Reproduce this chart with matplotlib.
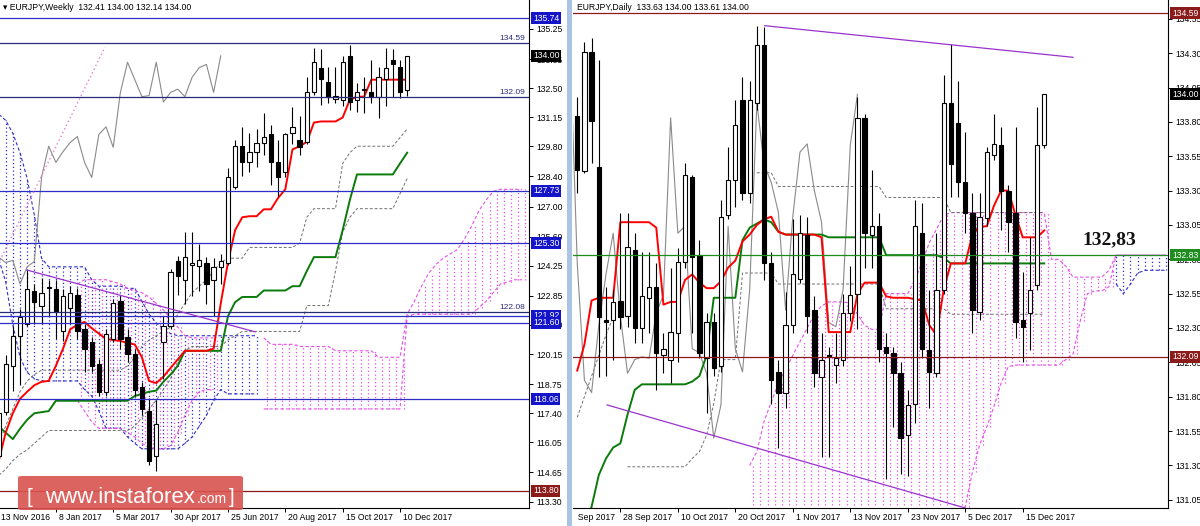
import numpy as np
import matplotlib
matplotlib.use("Agg")
import matplotlib.pyplot as plt
from matplotlib.patches import Rectangle, FancyBboxPatch
from matplotlib.transforms import offset_copy, Bbox, TransformedBbox

nan = np.nan

# ---------------- weekly EURJPY, index 0 = week of 13 Nov 2016
wk_open = [115.4, 117.47, 119.6, 121.0, 121.55, 123.1, 122.4, 123.2, 123.17, 121.2,
           122.3, 122.9, 121.3, 120.7, 119.7, 118.4, 120.85, 122.6, 120.95, 120.15,
           118.6, 117.5, 115.4, 120.7, 121.45, 124.46, 123.6, 124.3, 124.25, 124.4,
           123.6, 124.2, 124.4, 127.9, 129.8, 129.05, 129.55, 129.97, 130.35, 129.05,
           128.6, 130.4, 130.1, 130.0, 132.3, 133.45, 132.8, 132.0, 131.95, 134.0,
           131.95, 132.4, 132.3, 132.1, 132.9, 133.8, 133.5, 132.41]
wk_high = [117.8, 120.1, 121.45, 122.24, 124.1, 123.4, 123.7, 123.6, 123.6, 123.17,
           123.3, 123.2, 121.55, 120.95, 119.9, 121.3, 122.7, 122.85, 121.3, 120.4,
           118.85, 118.1, 118.0, 121.9, 124.1, 124.7, 125.8, 125.8, 125.25, 124.65,
           124.6, 124.8, 128.8, 130.1, 130.7, 130.4, 130.6, 131.36, 130.8, 130.1,
           130.4, 131.6, 131.2, 133.0, 134.37, 134.3, 133.5, 133.5, 134.0, 134.5,
           132.75, 133.0, 133.8, 133.5, 134.37, 134.3, 133.8, 134.00]
wk_low = [115.2, 117.3, 118.45, 118.7, 121.45, 121.55, 121.6, 121.9, 120.85, 120.76,
          121.6, 120.85, 119.3, 119.3, 118.2, 118.2, 120.7, 120.4, 119.8, 118.2,
          117.3, 115.0, 114.74, 119.0, 121.3, 122.9, 122.45, 122.85, 123.1, 122.45,
          121.9, 123.4, 124.3, 127.8, 128.4, 128.6, 128.85, 129.4, 128.0, 127.5,
          128.35, 129.9, 129.4, 129.9, 132.2, 131.7, 131.8, 131.8, 131.65, 131.5,
          131.4, 131.35, 131.8, 131.1, 131.65, 132.1, 132.05, 132.14]
wk_close = [117.4, 119.69, 121.0, 121.87, 123.17, 122.56, 123.0, 123.25, 122.15, 122.85,
            123.0, 121.2, 120.4, 119.6, 118.4, 121.1, 122.5, 120.85, 120.15, 118.5,
            117.6, 115.2, 116.9, 121.45, 123.95, 123.77, 124.65, 124.4, 124.5, 123.4,
            124.2, 124.45, 128.35, 129.8, 129.05, 129.55, 129.97, 130.25, 129.05, 128.35,
            130.35, 130.7, 129.75, 132.3, 133.7, 132.9, 132.1, 132.15, 133.7, 131.85,
            132.3, 132.45, 132.1, 133.0, 133.45, 133.6, 132.3, 134.00]
wk_tenkan = [115.15, 116.5, 117.4, 118.07, 118.4, 118.7, 118.86, 118.9, 119.6, 120.4,
             121.3, 121.5, 121.64, 121.35, 121.1, 120.85, 120.8, 120.76, 120.65, 120.6,
             120.0, 118.9, 118.8, 119.1, 119.5, 119.9, 120.3, 120.3, 120.3, 120.3,
             120.4, 122.5, 124.4, 125.9, 126.5, 126.55, 126.55, 126.87, 126.87, 127.4,
             127.8, 129.65, 129.8, 130.0, 130.9, 130.95, 130.95, 130.95, 131.13, 131.96,
             132.1, 132.1, 132.89, 132.89, 132.89, 132.89, 132.89, 132.89]
wk_kijun = [116.8, 116.5, 116.2, 116.68, 117.1, 117.4, 117.45, 117.5, 117.98, 117.98,
            117.98, 117.98, 117.98, 117.98, 117.98, 117.98, 117.98, 117.98, 117.98, 118.2,
            118.3, 118.4, 118.45, 118.86, 119.2, 119.6, 120.3, 120.3, 120.3, 120.3,
            120.3, 120.3, 121.9, 122.56, 122.8, 122.8, 122.8, 123.1, 123.1, 123.1,
            123.1, 123.3, 123.3, 124.0, 124.65, 124.65, 124.65, 124.65, 125.9, 127.3,
            128.49, 128.49, 128.49, 128.49, 128.49, 128.49, 129.0, 129.5]
wk_dash_hi = [116.0, 116.8, 117.6, 118.4, 118.9, 119.2, 119.4, 119.4, 119.4, 119.4,
              119.4, 119.4, 119.4, 119.4, 119.4, 119.4, 119.4, 119.4, 119.6, 120.0,
              120.5, 120.8, 121.0, 121.2, 121.4, 122.0, 122.5, 123.0, 123.3, 123.6,
              124.0, 124.4, 124.6, 124.6, 124.6, 125.1, 125.1, 125.1, 125.1, 125.1,
              125.1, 125.1, 125.3, 126.5, 126.9, 126.9, 126.9, 126.9, 129.0, 129.5,
              129.8, 129.8, 129.8, 129.8, 129.8, 129.8, 130.2, 130.6]
wk_dash_lo = [114.5, 114.8, 115.2, 115.5, 115.7, 116.0, 116.3, 116.6, 116.6, 116.6,
              116.6, 116.6, 116.6, 116.6, 116.6, 116.6, 116.6, 116.6, 116.6, 116.8,
              117.2, 117.6, 118.0, 118.5, 119.0, 119.8, 120.3, 120.5, 120.5, 120.5,
              120.5, 120.5, 120.8, 121.0, 121.2, 121.2, 121.2, 121.2, 121.2, 121.2,
              121.2, 121.2, 121.2, 122.4, 122.4, 122.4, 122.4, 124.0, 125.8, 126.5,
              126.9, 126.9, 126.9, 126.9, 126.9, 126.9, 127.6, 128.3]
# cloud pieces (blue from week 0, pink from week 11)
wk_blue_top = [131.3, 131.0, 130.4, 129.5, 128.3, 126.6, 124.6, 124.2, 124.2, 124.2,
               124.2, 124.2, 124.2, 123.6, 123.3, 123.3, 123.3, 123.3, 123.2, 123.2,
               122.6, 122.0, 121.6, 121.3, 121.1, 121.0, 121.0, 121.0, 121.0, 121.0,
               121.0, 121.0, 121.0, 121.0, 121.0, 121.0, 121.0]
wk_blue_bot = [124.6, 123.5, 121.5, 120.0, 119.3, 119.0, 118.9, 118.9, 118.9, 118.9,
               118.9, 118.9, 118.5, 118.2, 117.5, 116.7, 116.7, 116.7, 116.3, 116.0,
               115.75, 115.75, 115.75, 115.75, 115.75, 115.75, 116.0, 116.3, 116.8, 117.3,
               118.0, 118.5, 118.3, 118.3, 118.3, 118.3, 118.3]
wk_pink_top = [123.4, 123.6, 123.6, 123.6, 123.6, 123.5, 123.4, 123.2, 123.1, 123.0,
               122.8, 122.5, 122.2, 121.8, 121.4, 121.0, 120.9, 120.9, 120.9, 120.9,
               nan, nan, nan, nan, nan, nan,
               120.9, 120.6, 120.6, 120.6, 120.6, 120.5, 120.5, 120.5, 120.5, 120.5,
               120.3, 120.3, 120.3, 120.3, 120.3, 120.3, 120.0, 120.0, 120.0, 120.0,
               122.0, 122.6, 123.3, 123.9, 124.3, 124.6, 124.8, 125.0, 125.5, 126.1,
               126.8, 127.3, 127.7, 127.8, 127.8, 127.8, 127.8]
wk_pink_bot = [118.0, 117.5, 117.0, 116.7, 116.7, 116.7, 116.7, 116.5, 116.3, 116.0,
               115.8, 115.75, 115.75, 115.9, 116.5, 117.3, 118.0, 118.4, 118.5, 118.5,
               nan, nan, nan, nan, nan, nan,
               117.6, 117.6, 117.6, 117.6, 117.6, 117.6, 117.6, 117.6, 117.6, 117.6,
               117.6, 117.6, 117.6, 117.6, 117.6, 117.6, 117.6, 117.6, 117.6, 117.6,
               121.9, 122.0, 122.0, 122.0, 122.0, 122.0, 122.0, 122.0, 122.0, 122.0,
               122.3, 122.6, 123.0, 123.4, 123.5, 123.6, 123.6]
wk_blue_start, wk_pink_start = 0, 11
wk_date_idx = [0, 8, 16, 24, 32, 40, 48, 56]
wk_date_labels = ["13 Nov 2016", "8 Jan 2017", "5 Mar 2017", "30 Apr 2017",
                  "25 Jun 2017", "20 Aug 2017", "15 Oct 2017", "10 Dec 2017"]
wk_ticks = [135.25, 133.85, 132.50, 131.15, 129.80, 128.40, 127.00, 125.60, 124.25,
            122.85, 121.50, 120.15, 118.75, 117.40, 116.05, 114.65, 113.30]
wk_levels_blue = [135.74, 127.73, 125.30, 121.92, 121.60, 118.06]
wk_levels_navy = [134.59, 132.09, 122.08]
wk_levels_red = [113.80]
wk_trend = ([3.97, 35.8], [124.05, 121.18])
wk_channel = ([0.2, 14.85], [124.5, 134.4])

# ---------------- daily EURJPY, index 0 = 18 Sep 2017, candles from index 2
dy_first = 2
dy_open = [133.84, 133.44, 134.31, 133.47, 132.36, 132.36, 132.50, 132.39, 132.87, 132.30,
           132.52, 132.60, 132.10, 132.07, 132.26, 132.78, 133.40, 132.83, 132.08, 132.34,
           132.02, 133.12, 133.38, 133.96, 133.28, 133.94, 134.36, 132.77, 131.98, 131.83,
           132.32, 132.66, 132.98, 132.43, 131.94, 132.10, 132.03, 132.07, 132.41, 132.55,
           133.83, 132.98, 133.04, 132.16, 132.12, 131.97, 131.52, 131.75, 132.99, 132.14,
           131.97, 132.58, 133.94, 133.79, 133.36, 133.14, 132.42, 133.10, 133.56, 133.63,
           133.30, 133.14, 132.36, 132.41, 132.61, 133.63]
dy_high = [133.98, 134.38, 134.41, 134.25, 132.60, 132.58, 133.14, 133.14, 132.99, 132.85,
           132.85, 132.77, 132.26, 132.74, 132.88, 133.50, 133.41, 132.94, 132.41, 132.41,
           133.23, 133.62, 133.96, 134.13, 134.10, 134.50, 134.49, 132.85, 132.07, 132.56,
           133.09, 133.12, 133.11, 132.53, 132.26, 132.16, 132.26, 132.55, 132.75, 133.98,
           133.86, 133.45, 133.14, 132.26, 132.16, 132.05, 131.85, 133.23, 133.21, 132.58,
           132.99, 134.14, 134.37, 134.10, 133.73, 133.28, 133.28, 133.62, 133.86, 133.76,
           133.34, 133.76, 132.71, 132.96, 133.91, 134.00]
dy_low = [133.28, 133.43, 133.50, 131.94, 131.95, 132.07, 132.29, 132.31, 132.19, 132.19,
          132.26, 131.85, 131.97, 131.90, 132.05, 132.74, 132.26, 132.08, 131.68, 131.95,
          131.98, 133.09, 133.18, 133.23, 133.21, 133.89, 132.65, 131.75, 131.43, 131.72,
          132.26, 132.63, 132.26, 131.87, 131.36, 131.36, 131.90, 132.02, 132.35, 132.29,
          132.74, 132.74, 132.05, 131.20, 131.58, 131.24, 131.22, 131.61, 132.08, 131.72,
          131.94, 132.55, 133.25, 133.25, 132.99, 132.26, 132.36, 133.04, 133.52, 133.01,
          132.85, 132.23, 132.05, 132.14, 132.58, 133.61]
dy_close = [133.45, 134.31, 133.81, 132.38, 132.34, 132.49, 132.38, 132.89, 132.30, 132.53,
            132.60, 132.12, 132.15, 132.27, 132.78, 133.41, 132.82, 132.12, 132.34, 132.01,
            133.11, 133.38, 133.78, 133.28, 133.96, 134.36, 132.77, 131.92, 131.83, 132.32,
            132.69, 132.99, 132.39, 131.97, 132.07, 132.09, 132.08, 132.41, 132.54, 133.83,
            132.99, 133.04, 132.15, 132.12, 131.97, 131.50, 131.74, 133.04, 132.15, 131.98,
            132.58, 133.94, 133.49, 133.36, 133.14, 132.43, 133.11, 133.58, 133.64, 133.30,
            133.07, 132.34, 132.31, 132.58, 133.63, 134.00]
dy_tenkan = [131.99, 132.18, 132.50, 132.52, 132.52, 132.52, 133.07, 133.07, 133.07, 133.07,
             133.07, 133.03, 132.47, 132.49, 132.49, 132.65, 132.69, 132.63, 132.59, 132.59,
             132.64, 132.74, 132.79, 132.93, 132.98, 133.05, 133.09, 133.11, 133.00, 132.98,
             132.98, 132.98, 132.98, 132.98, 132.96, 132.27, 132.27, 132.27, 132.27, 132.55,
             132.63, 132.63, 132.63, 132.53, 132.52, 132.52, 132.52, 132.51, 132.50, 132.32,
             132.25, 132.58, 132.77, 132.77, 132.77, 132.98, 133.04, 133.04, 133.19, 133.30,
             133.30, 133.12, 132.96, 132.96, 132.96, 133.01]
dy_kijun = [130.70, 130.85, 131.00, 131.23, 131.35, 131.43, 131.46, 131.67, 131.85, 131.89,
            131.89, 131.89, 131.89, 131.89, 131.89, 131.89, 131.91, 131.95, 132.10, 132.52,
            132.52, 132.52, 132.52, 132.94, 133.03, 133.06, 133.09, 133.07, 133.00, 132.98,
            132.98, 132.98, 132.98, 132.98, 132.98, 132.96, 132.96, 132.96, 132.96, 132.96,
            132.96, 132.96, 132.96, 132.83, 132.83, 132.83, 132.83, 132.83, 132.83, 132.83,
            132.83, 132.81, 132.77, 132.77, 132.77, 132.77, 132.77, 132.77, 132.77, 132.77,
            132.77, 132.77, 132.77, 132.77, 132.77, 132.77]
dy_dash_hi = [131.65, 131.80, 131.95, 132.10, 132.25, 132.38, nan, nan, nan, nan,
              nan, nan, nan, nan, nan, nan, nan, nan, nan, nan,
              nan, nan, nan, nan, nan, 133.43, 133.43, 133.43, 133.33, 133.33,
              133.33, 133.33, 133.33, 133.33, 133.33, 133.33, 133.33, 133.33, 133.33, 133.33,
              133.33, 133.33, 133.33, 133.25, 133.25, 133.25, 133.25, 133.25, 133.25, 133.25,
              133.25, 133.25, 133.14, 133.14, 133.14, 133.14, 133.14, 133.14, 133.14, 133.14,
              133.14, 133.14, 133.14, 133.14, 133.14, 133.14]
dy_dash_lo = [nan, nan, nan, nan, nan, nan, nan, 131.29, 131.29, 131.29,
              131.29, 131.29, 131.29, 131.29, 131.29, 131.29, 131.35, 131.40, 131.52, 131.75,
              132.07, 132.07, 132.07, 132.70, 132.70, 132.70, 132.70, 132.70, 132.62, 132.62,
              132.62, 132.62, 132.62, 132.62, 132.62, 132.62, 132.62, 132.62, 132.62, 132.62,
              132.62, 132.62, 132.62, 132.44, 132.44, 132.44, 132.44, 132.44, 132.44, 132.44,
              132.44, 132.44, 132.40, 132.40, 132.40, 132.40, 132.40, 132.40, 132.40, 132.40,
              132.40, 132.40, 132.40, 132.40, 132.40, 132.40]
# daily cloud, index 26..84
dy_cloud_start = 26
dy_cloud_top = [131.30, 131.40, 131.62, 131.76, 131.90, 132.00, 132.10, 132.20, 132.30, 132.40,
                132.46, 132.49, 132.49, 132.49, 132.48, 132.40, 132.32, 132.29, 132.29, 132.55,
                132.55, 132.55, 132.55, 132.65, 132.78, 132.92, 133.02, 133.12, 133.14, 133.14,
                133.14, 133.14, 133.14, 133.14, 133.14, 133.14, 133.14, 133.14, 133.14, 133.14,
                133.14, 133.14, 132.80, 132.80, 132.75, 132.67, 132.67, 132.67, 132.67, 132.67,
                132.72, 132.83, 132.83, 132.83, 132.83, 132.83, 132.83, 132.83, 132.83]
dy_cloud_bot = [130.90, 130.90, 130.90, 130.90, 130.90, 130.90, 130.90, 130.90, 130.90, 130.90,
                130.90, 130.90, 130.90, 130.90, 130.90, 130.90, 130.90, 130.90, 130.90, 130.90,
                130.90, 130.90, 130.90, 130.90, 130.90, 130.90, 130.90, 130.90, 130.90, 130.90,
                131.00, 131.25, 131.45, 131.58, 131.73, 131.90, 132.02, 132.03, 132.03, 132.03,
                132.03, 132.03, 132.03, 132.03, 132.07, 132.11, 132.35, 132.55, 132.57, 132.57,
                132.60, 132.83, 132.83, 132.83, 132.83, 132.83, 132.83, 132.83, 132.83]
dy_blue_start = 77
dy_blue_top = [132.83, 132.83, 132.83, 132.83, 132.83, 132.83, 132.83, 132.83]
dy_blue_bot = [132.62, 132.55, 132.62, 132.70, 132.72, 132.72, 132.72, 132.72]
dy_date_idx = [0, 8, 16, 24, 32, 40, 48, 56, 64]
dy_date_labels = ["18 Sep 2017", "28 Sep 2017", "10 Oct 2017", "20 Oct 2017", "1 Nov 2017",
                  "13 Nov 2017", "23 Nov 2017", "5 Dec 2017", "15 Dec 2017"]
dy_ticks = [134.55, 134.30, 134.05, 133.80, 133.55, 133.30, 133.05, 132.80, 132.55,
            132.30, 132.05, 131.80, 131.55, 131.30, 131.05]
dy_levels_red = [134.59, 132.09]
dy_level_green = 132.83
dy_trend_hi = ([28.1, 71.0], [134.50, 134.27])
dy_trend_lo = ([6.15, 56.0], [131.74, 130.99])
LAG = 26

# ---------------- drawing
plt.rcParams["font.family"] = ["Liberation Sans", "DejaVu Sans"]
W, H = 1200.0, 526.0
fig = plt.figure(figsize=(12, 5.26), dpi=100)

BLUE = "#2f2fc8"
NAVY = "#2a2a7a"
DRED = "#8b1a1a"
PINK = "#e650e6"
PURPLE = "#9a32cd"
GREY = "#8a8a8a"


def px_axes(x0, y0, x1, y1):
    return fig.add_axes([x0 / W, 1 - y1 / H, (x1 - x0) / W, (y1 - y0) / H])


ax_w = px_axes(0, 0, 529, 508)
ax_d = px_axes(573, 0, 1168, 508)

for ax in (ax_w, ax_d):
    ax.spines["top"].set_visible(False)
    ax.spines["left"].set_visible(False)
    ax.spines["right"].set_linewidth(0.8)
    ax.spines["bottom"].set_linewidth(0.8)
    ax.yaxis.tick_right()
    ax.tick_params(axis="both", direction="out", length=3, width=0.7,
                   labelsize=6.2, pad=2)
    ax.tick_params(axis="x", labelbottom=False)


def draw_candles(ax, x, o, h, l, c, width=0.6):
    o, h, l, c = map(np.asarray, (o, h, l, c))
    up = c >= o
    ax.vlines(x, l, h, color="black", lw=0.8, zorder=3)
    lo = np.minimum(o, c)
    hh = np.abs(c - o)
    ax.bar(x[up], hh[up], width, bottom=lo[up], color="white",
           edgecolor="black", lw=0.8, zorder=4)
    ax.bar(x[~up], hh[~up], width, bottom=lo[~up], color="black",
           edgecolor="black", lw=0.8, zorder=4)


def draw_cloud(ax, start, top, bot, color, shift):
    x = np.arange(start, start + len(top)) + 0.0
    t = np.array(top, float)
    b = np.array(bot, float)
    m = ~np.isnan(t)
    ax.vlines(x[m] + shift, b[m], t[m], colors=color, linestyles=(0, (1, 2)),
              lw=0.9, zorder=1)
    ax.plot(x, t, color=color, ls=(0, (3, 2)), lw=0.8, zorder=1.5)
    ax.plot(x, b, color=color, ls=(0, (3, 2)), lw=0.8, zorder=1.5)


def price_box(ax, value, text, fc):
    tr = offset_copy(ax.get_yaxis_transform(), fig=fig, x=4, y=0, units="dots")
    ax.text(1.0, value, text, transform=tr, ha="left", va="center", fontsize=6.2,
            color="white", bbox=dict(boxstyle="square,pad=0.18", fc=fc, ec="none"),
            clip_on=False, zorder=10)


def line_label(ax, value, text, color):
    tr = offset_copy(ax.get_yaxis_transform(), fig=fig, x=-4, y=1, units="dots")
    ax.text(1.0, value, text, transform=tr, ha="right", va="bottom",
            fontsize=6, color=color, zorder=6)


def date_labels(ax, idx, labels, clip=None):
    tr = offset_copy(ax.get_xaxis_transform(), fig=fig, x=3, y=-9, units="dots")
    for i, s in zip(idx, labels):
        t = ax.text(i, 0, s, transform=tr, ha="left", va="center", fontsize=6.2,
                    clip_on=False)
        if clip is not None:
            t.set_clip_box(clip)
            t.set_clip_on(True)
    ax.set_xticks(idx)


# ----- weekly panel
wx = np.arange(len(wk_close))
draw_cloud(ax_w, wk_blue_start, wk_blue_top, wk_blue_bot, BLUE, 0.0)
draw_cloud(ax_w, wk_pink_start, wk_pink_top, wk_pink_bot, PINK, 0.5)
ax_w.plot(wx, wk_dash_hi, color="#707070", ls=(0, (3, 2)), lw=0.7, zorder=2)
ax_w.plot(wx, wk_dash_lo, color="#707070", ls=(0, (3, 2)), lw=0.7, zorder=2)
ax_w.plot(wx[LAG:] - LAG, wk_close[LAG:], color=GREY, lw=0.8, zorder=2)
ax_w.plot(wx, wk_kijun, color="#0a7a0a", lw=1.4, zorder=2.5)
ax_w.plot(wx, wk_tenkan, color="#ff0000", lw=1.4, zorder=2.6)
draw_candles(ax_w, wx, wk_open, wk_high, wk_low, wk_close)
for v in wk_levels_blue:
    ax_w.axhline(v, color=BLUE, lw=0.9, zorder=5)
for v in wk_levels_navy:
    ax_w.axhline(v, color=NAVY, lw=0.9, zorder=5)
    line_label(ax_w, v, "%.2f" % v, NAVY)
for v in wk_levels_red:
    ax_w.axhline(v, color=DRED, lw=0.9, zorder=5)
ax_w.plot(*wk_trend, color=PURPLE, lw=0.9, zorder=5)
ax_w.plot(*wk_channel, color="#e87ad8", lw=1.0, ls=(0, (1, 2)), zorder=5)
ax_w.set_yticks(wk_ticks)
ax_w.set_yticklabels(["%.2f" % v for v in wk_ticks])
date_labels(ax_w, wk_date_idx, wk_date_labels)
for v in wk_levels_blue:
    price_box(ax_w, v, "%.2f" % v, "#1414c8")
price_box(ax_w, wk_close[-1], "%.2f" % wk_close[-1], "black")
for v in wk_levels_red:
    price_box(ax_w, v, "%.2f" % v, DRED)
ax_w.set_xlim(0.21, 73.99)
ax_w.set_ylim(113.0, 136.59)

# ----- daily panel
dx = np.arange(dy_first, dy_first + len(dy_close))
draw_cloud(ax_d, dy_cloud_start, dy_cloud_top, dy_cloud_bot, PINK, 0.5)
draw_cloud(ax_d, dy_blue_start, dy_blue_top, dy_blue_bot, BLUE, 0.0)
ax_d.plot(dx, dy_dash_hi, color="#707070", ls=(0, (3, 2)), lw=0.7, zorder=2)
ax_d.plot(dx, dy_dash_lo, color="#707070", ls=(0, (3, 2)), lw=0.7, zorder=2)
ax_d.plot(dx - LAG, dy_close, color=GREY, lw=0.8, zorder=2)
ax_d.plot(dx, dy_kijun, color="#0a7a0a", lw=1.4, zorder=2.5)
ax_d.plot(dx, dy_tenkan, color="#ff0000", lw=1.4, zorder=2.6)
draw_candles(ax_d, dx, dy_open, dy_high, dy_low, dy_close)
for v in dy_levels_red:
    ax_d.axhline(v, color=DRED, lw=0.9, zorder=5)
ax_d.axhline(dy_level_green, color="#1e8c1e", lw=0.9, zorder=5)
ax_d.plot(*dy_trend_hi, color=PURPLE, lw=0.9, zorder=5)
ax_d.plot(*dy_trend_lo, color=PURPLE, lw=0.9, zorder=5)
ax_d.text(76.1, 132.94, "132,83", fontsize=14, fontweight="bold",
          family=["Liberation Serif", "DejaVu Serif"], color="#111111",
          ha="center", va="center", zorder=8)
ax_d.set_yticks(dy_ticks)
ax_d.set_yticklabels(["%.2f" % v for v in dy_ticks])
clip = TransformedBbox(Bbox([[576 / W, 0], [1, 1]]), fig.transFigure)
date_labels(ax_d, dy_date_idx, dy_date_labels, clip)
price_box(ax_d, dy_levels_red[0], "%.2f" % dy_levels_red[0], DRED)
price_box(ax_d, dy_close[-1], "%.2f" % dy_close[-1], "black")
price_box(ax_d, dy_level_green, "%.2f" % dy_level_green, "#1e8c1e")
price_box(ax_d, dy_levels_red[1], "%.2f" % dy_levels_red[1], DRED)
ax_d.set_xlim(1.41, 84.22)
ax_d.set_ylim(130.99, 134.687)

# ----- titles, window border, watermark
fig.text(3 / W, 1 - 7 / H, "\u25be EURJPY,Weekly  %.2f %.2f %.2f %.2f"
         % (wk_open[-1], wk_high[-1], wk_low[-1], wk_close[-1]),
         fontsize=6.2, va="center")
fig.text(577 / W, 1 - 7 / H, "EURJPY,Daily  %.2f %.2f %.2f %.2f"
         % (dy_open[-1], dy_high[-1], dy_low[-1], dy_close[-1]),
         fontsize=6.2, va="center")
fig.add_artist(Rectangle((567 / W, 0), 5 / W, 1, transform=fig.transFigure,
                         fc="#a9c4e4", ec="none", zorder=5))
fig.add_artist(FancyBboxPatch((18 / W, 1 - 510 / H), 225 / W, 34 / H,
                              boxstyle="round,pad=0,rounding_size=0.003",
                              transform=fig.transFigure, fc="#d9534f", ec="none",
                              alpha=0.9, zorder=20))
base = 1 - 503 / H
fig.text(27 / W, base, "[", fontsize=15, color="white", va="baseline", zorder=21)
fig.text(45 / W, base, "www.instaforex", fontsize=16, color="white",
         va="baseline", zorder=21)
fig.text(197 / W, base, ".com", fontsize=10, color="white", va="baseline", zorder=21)
fig.text(229 / W, base, "]", fontsize=15, color="white", va="baseline", zorder=21)

fig.savefig("out.png", dpi=100)
